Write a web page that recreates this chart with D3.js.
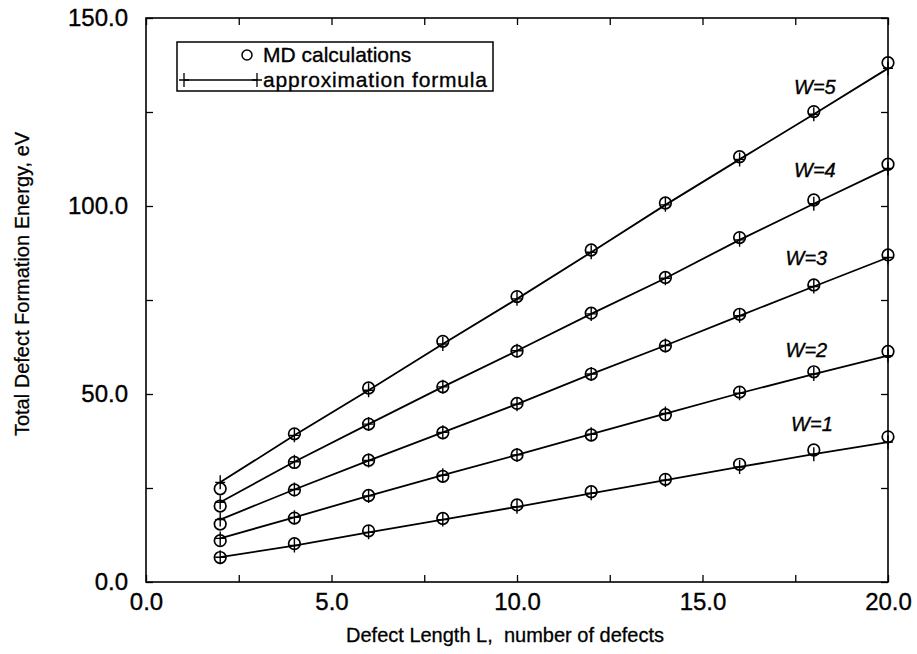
<!DOCTYPE html>
<html>
<head>
<meta charset="utf-8">
<script src="https://cdn.jsdelivr.net/npm/d3@7"></script>
<style>
  html, body { margin: 0; padding: 0; background: #fff; }
  svg { display: block; font-family: "Liberation Sans", Arial, Helvetica, sans-serif; }
</style>
</head>
<body>
<svg id="chart" width="917" height="654"></svg>
<script>
// ---- data ----
const lengths = [2, 4, 6, 8, 10, 12, 14, 16, 18, 20];
const widthLabels = ["W=1", "W=2", "W=3", "W=4", "W=5"];
// MD calculations (circles)
const mdW1 = [6.5, 10.2, 13.6, 16.9, 20.5, 24.0, 27.3, 31.3, 35.1, 38.6];
const mdW2 = [11.0, 17.0, 23.0, 28.1, 33.8, 39.1, 44.5, 50.5, 55.9, 61.3];
const mdW3 = [15.4, 24.5, 32.4, 39.7, 47.5, 55.3, 62.8, 71.2, 79.0, 87.0];
const mdW4 = [20.2, 31.8, 42.0, 51.9, 61.4, 71.5, 81.0, 91.6, 101.6, 111.1];
const mdW5 = [24.8, 39.4, 51.6, 64.0, 75.9, 88.3, 100.8, 113.1, 125.1, 138.1];
// approximation formula (line with + markers)
const apW1 = [6.6, 9.7, 13.2, 16.6, 20.0, 23.6, 27.1, 30.6, 34.0, 37.2];
const apW2 = [11.6, 17.2, 22.9, 28.4, 33.8, 39.3, 44.8, 50.2, 55.3, 60.2];
const apW3 = [16.6, 24.6, 32.3, 39.8, 47.3, 55.3, 62.9, 70.8, 78.6, 86.3];
const apW4 = [21.2, 32.0, 42.0, 51.9, 61.5, 71.3, 80.8, 91.0, 100.6, 110.0];
const apW5 = [26.5, 39.0, 51.0, 63.3, 75.3, 87.7, 100.3, 112.4, 124.4, 136.6];
const xMajorTicks = [0, 5, 10, 15, 20];
const xMinorTicks = [2.5, 7.5, 12.5, 17.5];
const yMajorTicks = [0, 50, 100, 150];
const yMinorTicks = [25, 75, 125];
const legendLabels = ["MD calculations", "approximation formula"];
const xTitle = "Defect Length L,  number of defects";
const yTitle = "Total Defect Formation Energy, eV";

const mdSeries = [mdW1, mdW2, mdW3, mdW4, mdW5];
const apSeries = [apW1, apW2, apW3, apW4, apW5];

// ---- layout ----
const svg = d3.select("#chart");
const W = 917, H = 654;
const margin = { left: 146, right: 29, top: 18, bottom: 72 };
const x = d3.scaleLinear().domain([0, 20]).range([margin.left, W - margin.right]);
const y = d3.scaleLinear().domain([0, 150]).range([H - margin.bottom, margin.top]);
const fmt = d3.format(".1f");
const tickLen = 7;
const inkStroke = 0.35;

// frame
svg.append("rect")
  .attr("x", x(0)).attr("y", y(150))
  .attr("width", x(20) - x(0)).attr("height", y(0) - y(150))
  .attr("fill", "none").attr("stroke", "#000").attr("stroke-width", 1.6);

function styleAxis(g) {
  g.select(".domain").remove();
  g.selectAll(".tick line").attr("stroke", "#000").attr("stroke-width", 1.3);
  g.selectAll(".tick text").attr("fill", "#000").attr("font-size", 24)
    .attr("stroke", "#000").attr("stroke-width", inkStroke)
    .attr("font-family", "'Liberation Sans', Arial, sans-serif");
}

// bottom
svg.append("g").attr("transform", `translate(0,${y(0)})`)
  .call(d3.axisBottom(x).tickValues(xMajorTicks).tickFormat(fmt).tickSizeInner(-tickLen).tickSizeOuter(0).tickPadding(11))
  .call(styleAxis);
svg.append("g").attr("transform", `translate(0,${y(0)})`)
  .call(d3.axisBottom(x).tickValues(xMinorTicks).tickFormat("").tickSizeInner(-tickLen).tickSizeOuter(0))
  .call(styleAxis);
// top
svg.append("g").attr("transform", `translate(0,${y(150)})`)
  .call(d3.axisTop(x).tickValues(xMajorTicks.concat(xMinorTicks)).tickFormat("").tickSizeInner(-tickLen).tickSizeOuter(0))
  .call(styleAxis);
// left
svg.append("g").attr("transform", `translate(${x(0)},0)`)
  .call(d3.axisLeft(y).tickValues(yMajorTicks).tickFormat(fmt).tickSizeInner(-tickLen).tickSizeOuter(0).tickPadding(18))
  .call(styleAxis);
svg.append("g").attr("transform", `translate(${x(0)},0)`)
  .call(d3.axisLeft(y).tickValues(yMinorTicks).tickFormat("").tickSizeInner(-tickLen).tickSizeOuter(0))
  .call(styleAxis);
// right
svg.append("g").attr("transform", `translate(${x(20)},0)`)
  .call(d3.axisRight(y).tickValues(yMajorTicks.concat(yMinorTicks)).tickFormat("").tickSizeInner(-tickLen).tickSizeOuter(0))
  .call(styleAxis);

// axis titles
svg.append("text")
  .attr("x", 505).attr("y", 642)
  .attr("text-anchor", "middle").attr("font-size", 20).attr("fill", "#000")
  .attr("stroke", "#000").attr("stroke-width", inkStroke * 0.8)
  .attr("xml:space", "preserve").style("white-space", "pre")
  .text(xTitle);
svg.append("text")
  .attr("transform", `translate(29,284) rotate(-90)`)
  .attr("text-anchor", "middle").attr("font-size", 20).attr("fill", "#000")
  .attr("stroke", "#000").attr("stroke-width", inkStroke * 0.8)
  .text(yTitle);

// series
const line = d3.line().x((d, i) => x(lengths[i])).y(d => y(d));
const plusSize = 6;
function plusPath(cx, cy) {
  return `M${cx - plusSize + 1},${cy}H${cx + plusSize - 1}M${cx},${cy - plusSize - 1}V${cy + plusSize + 1}`;
}

const gSeries = svg.append("g");
apSeries.forEach((vals) => {
  gSeries.append("path").datum(vals)
    .attr("d", line).attr("fill", "none").attr("stroke", "#000").attr("stroke-width", 1.8);
  gSeries.selectAll(null).data(vals).enter().append("path")
    .attr("d", (d, i) => plusPath(x(lengths[i]), y(d)))
    .attr("stroke", "#000").attr("stroke-width", 1.4).attr("fill", "none");
});
mdSeries.forEach((vals) => {
  gSeries.selectAll(null).data(vals).enter().append("circle")
    .attr("cx", (d, i) => x(lengths[i])).attr("cy", d => y(d)).attr("r", 5.8)
    .attr("fill", "none").attr("stroke", "#000").attr("stroke-width", 1.7);
});

// W labels (annotation positions in data units)
const labelL = [17.95, 17.8, 17.8, 18.03, 18.03];
const labelE = [42.0, 61.7, 86.2, 109.6, 131.6];
widthLabels.forEach((lab, s) => {
  svg.append("text")
    .attr("x", x(labelL[s])).attr("y", y(labelE[s]))
    .attr("dy", "0.36em")
    .attr("text-anchor", "middle").attr("font-size", 20).attr("font-style", "italic")
    .attr("stroke", "#000").attr("stroke-width", inkStroke)
    .attr("fill", "#000").text(lab);
});

// legend
const lg = svg.append("g");
lg.append("rect").attr("x", 177).attr("y", 42).attr("width", 316).attr("height", 49)
  .attr("fill", "#fff").attr("stroke", "#000").attr("stroke-width", 1.5);
lg.append("circle").attr("cx", 247).attr("cy", 55).attr("r", 5)
  .attr("fill", "none").attr("stroke", "#000").attr("stroke-width", 1.5);
lg.append("text").attr("x", 263).attr("y", 62).attr("font-size", 21).attr("fill", "#000")
  .attr("stroke", "#000").attr("stroke-width", inkStroke).text(legendLabels[0]);
lg.append("line").attr("x1", 184).attr("x2", 257).attr("y1", 80).attr("y2", 80)
  .attr("stroke", "#000").attr("stroke-width", 1.5);
[184, 257].forEach(px => {
  lg.append("path").attr("d", plusPath(px, 80)).attr("stroke", "#000").attr("stroke-width", 1.3);
});
lg.append("text").attr("x", 263).attr("y", 87).attr("font-size", 21).attr("fill", "#000")
  .attr("stroke", "#000").attr("stroke-width", inkStroke)
  .attr("textLength", 224).attr("lengthAdjust", "spacing")
  .text(legendLabels[1]);
</script>
</body>
</html>
